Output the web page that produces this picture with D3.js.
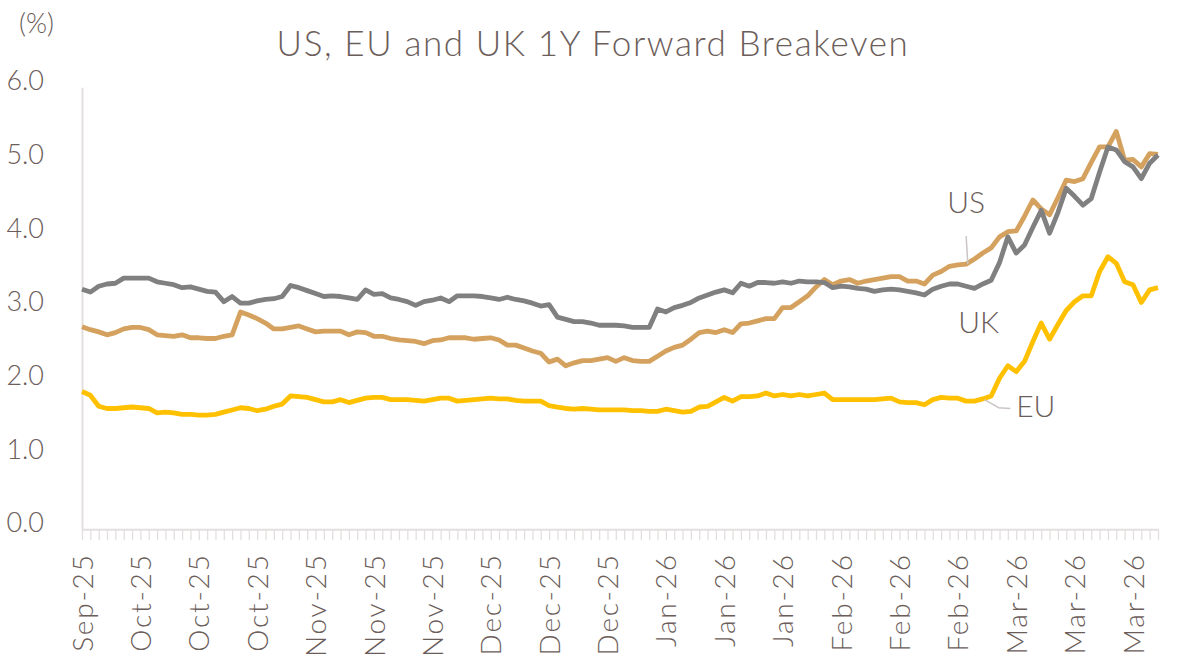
<!DOCTYPE html>
<html>
<head>
<meta charset="utf-8">
<script src="https://cdn.jsdelivr.net/npm/d3@7"></script>
<style>
  body { margin: 0; background: #fff; }
  text { font-family: Lato, "Noto Sans", sans-serif; fill: #6b5d5a; }
</style>
</head>
<body>
<div id="chart"></div>
<script>
var width = 1196,
    height = 669;

// daily observations, one label every 7th point
var tickLabels = ["Sep-25", "Oct-25", "Oct-25", "Oct-25", "Nov-25", "Nov-25", "Nov-25",
    "Dec-25", "Dec-25", "Dec-25", "Jan-26", "Jan-26", "Jan-26", "Feb-26", "Feb-26", "Feb-26",
    "Mar-26", "Mar-26", "Mar-26"];
var labelEvery = 7;

var us = [2.75, 2.71, 2.68, 2.64, 2.67, 2.72, 2.74, 2.74, 2.71, 2.64,
    2.63, 2.62, 2.64, 2.60, 2.60, 2.59, 2.59, 2.62, 2.64, 2.95,
    2.91, 2.86, 2.80, 2.72, 2.72, 2.74, 2.76, 2.72, 2.68, 2.69,
    2.69, 2.69, 2.64, 2.68, 2.67, 2.62, 2.62, 2.59, 2.57, 2.56,
    2.55, 2.52, 2.56, 2.57, 2.60, 2.60, 2.60, 2.58, 2.59, 2.60,
    2.57, 2.50, 2.50, 2.46, 2.42, 2.39, 2.27, 2.31, 2.22, 2.26,
    2.29, 2.29, 2.31, 2.33, 2.28, 2.33, 2.29, 2.28, 2.28, 2.35,
    2.42, 2.47, 2.50, 2.58, 2.67, 2.69, 2.67, 2.71, 2.67, 2.79,
    2.80, 2.83, 2.86, 2.86, 3.01, 3.01, 3.09, 3.17, 3.29, 3.39,
    3.32, 3.37, 3.39, 3.34, 3.37, 3.39, 3.41, 3.43, 3.43, 3.37,
    3.37, 3.33, 3.45, 3.50, 3.57, 3.59, 3.60, 3.67, 3.75, 3.82,
    3.97, 4.04, 4.05, 4.25, 4.47, 4.35, 4.27, 4.50, 4.74, 4.72,
    4.76, 4.98, 5.19, 5.19, 5.40, 5.01, 5.02, 4.92, 5.10, 5.09];

var eu = [1.87, 1.82, 1.67, 1.64, 1.64, 1.65, 1.66, 1.65, 1.64, 1.58,
    1.59, 1.58, 1.56, 1.56, 1.55, 1.55, 1.56, 1.59, 1.62, 1.65,
    1.64, 1.61, 1.63, 1.67, 1.70, 1.81, 1.80, 1.79, 1.76, 1.73,
    1.73, 1.76, 1.72, 1.75, 1.78, 1.79, 1.79, 1.76, 1.76, 1.76,
    1.75, 1.74, 1.76, 1.78, 1.78, 1.74, 1.75, 1.76, 1.77, 1.78,
    1.77, 1.77, 1.75, 1.74, 1.74, 1.74, 1.68, 1.66, 1.64, 1.63,
    1.64, 1.63, 1.62, 1.62, 1.62, 1.62, 1.61, 1.61, 1.60, 1.60,
    1.63, 1.61, 1.59, 1.60, 1.66, 1.67, 1.73, 1.79, 1.74, 1.80,
    1.80, 1.81, 1.85, 1.81, 1.83, 1.81, 1.83, 1.81, 1.83, 1.85,
    1.76, 1.76, 1.76, 1.76, 1.76, 1.76, 1.77, 1.78, 1.73, 1.72,
    1.72, 1.69, 1.76, 1.79, 1.78, 1.78, 1.74, 1.74, 1.77, 1.81,
    2.05, 2.22, 2.14, 2.28, 2.55, 2.80, 2.58, 2.78, 2.97, 3.09,
    3.17, 3.17, 3.50, 3.70, 3.61, 3.36, 3.32, 3.08, 3.25, 3.28];

var uk = [3.26, 3.22, 3.30, 3.33, 3.34, 3.41, 3.41, 3.41, 3.41, 3.36,
    3.34, 3.32, 3.28, 3.29, 3.26, 3.23, 3.22, 3.09, 3.16, 3.07,
    3.07, 3.10, 3.12, 3.13, 3.16, 3.31, 3.28, 3.24, 3.20, 3.16,
    3.17, 3.16, 3.14, 3.12, 3.25, 3.19, 3.20, 3.14, 3.12, 3.09,
    3.04, 3.09, 3.11, 3.14, 3.09, 3.17, 3.17, 3.17, 3.16, 3.14,
    3.12, 3.15, 3.12, 3.10, 3.07, 3.03, 3.05, 2.88, 2.85, 2.82,
    2.82, 2.80, 2.77, 2.77, 2.77, 2.76, 2.74, 2.74, 2.74, 2.99,
    2.95, 3.01, 3.04, 3.08, 3.14, 3.18, 3.22, 3.25, 3.21, 3.34,
    3.30, 3.35, 3.35, 3.34, 3.36, 3.34, 3.37, 3.36, 3.36, 3.35,
    3.28, 3.30, 3.29, 3.27, 3.26, 3.23, 3.25, 3.26, 3.25, 3.23,
    3.21, 3.18, 3.26, 3.30, 3.33, 3.33, 3.30, 3.27, 3.33, 3.38,
    3.62, 3.97, 3.75, 3.86, 4.10, 4.33, 4.02, 4.30, 4.63, 4.52,
    4.40, 4.49, 4.85, 5.19, 5.15, 4.99, 4.92, 4.76, 4.97, 5.08];

var yTicks = [0, 1, 2, 3, 4, 5, 6];

var series = [
    { name: "US", values: us, color: "#d4a25e" },
    { name: "EU", values: eu, color: "#ffc000" },
    { name: "UK", values: uk, color: "#808080" }
];

var svg = d3.select("#chart").append("svg")
    .attr("width", width)
    .attr("height", height);

var x = d3.scaleLinear()
    .domain([0, us.length - 1])
    .range([82, 1158]);

var y = d3.scaleLinear()
    .domain([0, 6])
    .range([529.3, 87.3]);

var axisColor = "#e3dfdf";
var font = "Lato, 'Noto Sans', sans-serif";

// y axis
var yAxis = svg.append("g")
    .attr("transform", "translate(" + x(0) + ",0)")
    .call(d3.axisLeft(y).tickValues(yTicks).tickFormat(d3.format(".1f")).tickSize(0).tickPadding(38));
yAxis.select(".domain").attr("stroke", axisColor).attr("stroke-width", 2);
yAxis.selectAll("text")
    .attr("font-size", "27px")
    .attr("dy", "0.32em")
    .attr("y", -6)
    .style("font-family", font)
    .style("font-weight", 300)
    .style("fill", "#6b5d5a");

// x axis, one small tick per observation
var xAxis = svg.append("g")
    .attr("transform", "translate(0," + y(0) + ")")
    .call(d3.axisBottom(x)
        .tickValues(d3.range(us.length))
        .tickSize(11)
        .tickSizeOuter(0)
        .tickFormat(function (d) {
            return d % labelEvery === 0 ? tickLabels[d / labelEvery] : "";
        }));
xAxis.select(".domain").attr("stroke", axisColor).attr("stroke-width", 2);
xAxis.selectAll(".tick line").attr("stroke", axisColor).attr("stroke-width", 1.3);
xAxis.selectAll("text")
    .attr("font-size", "28px")
    .attr("text-anchor", "end")
    .attr("transform", "rotate(-90)")
    .attr("x", -24)
    .attr("y", 0)
    .attr("dy", "0.36em")
    .style("letter-spacing", "1.8px")
    .style("font-family", font)
    .style("font-weight", 300)
    .style("fill", "#6b5d5a");

// lines
var line = d3.line()
    .x(function (d, i) { return x(i); })
    .y(function (d) { return y(d); });

svg.selectAll("path.series")
    .data([series[1], series[0], series[2]])
    .enter().append("path")
    .attr("class", "series")
    .attr("fill", "none")
    .attr("stroke", function (d) { return d.color; })
    .attr("stroke-width", 4.8)
    .attr("stroke-linejoin", "round")
    .attr("d", function (d) { return line(d.values); });

// title and unit
svg.append("text")
    .attr("x", 593)
    .attr("y", 56)
    .attr("text-anchor", "middle")
    .attr("font-size", "35px")
    .style("font-weight", 300)
    .style("letter-spacing", "1.6px")
    .text("US, EU and UK 1Y Forward Breakeven");

svg.append("text")
    .attr("x", 19)
    .attr("y", 33)
    .attr("font-size", "27px")
    .style("font-weight", 300)
    .text("(%)");

// series labels with leader lines
var leader = "#cbc5c4";
svg.append("line")
    .attr("x1", x(106)).attr("y1", y(3.98))
    .attr("x2", x(106.2)).attr("y2", y(3.6))
    .attr("stroke", leader).attr("stroke-width", 1.5);
svg.append("text")
    .attr("x", x(106))
    .attr("y", y(4.3))
    .attr("text-anchor", "middle")
    .attr("font-size", "30px")
    .style("font-weight", 300)
    .text("US");

svg.append("text")
    .attr("x", x(107.5))
    .attr("y", y(2.67))
    .attr("text-anchor", "middle")
    .attr("font-size", "30px")
    .style("font-weight", 300)
    .text("UK");

svg.append("polyline")
    .attr("points", [[x(108.2), y(1.76)], [x(109.9), y(1.65)], [x(111.3), y(1.64)]].join(" "))
    .attr("fill", "none")
    .attr("stroke", leader).attr("stroke-width", 1.5);
svg.append("text")
    .attr("x", x(112))
    .attr("y", y(1.52))
    .attr("font-size", "30px")
    .style("font-weight", 300)
    .text("EU");
</script>
</body>
</html>
